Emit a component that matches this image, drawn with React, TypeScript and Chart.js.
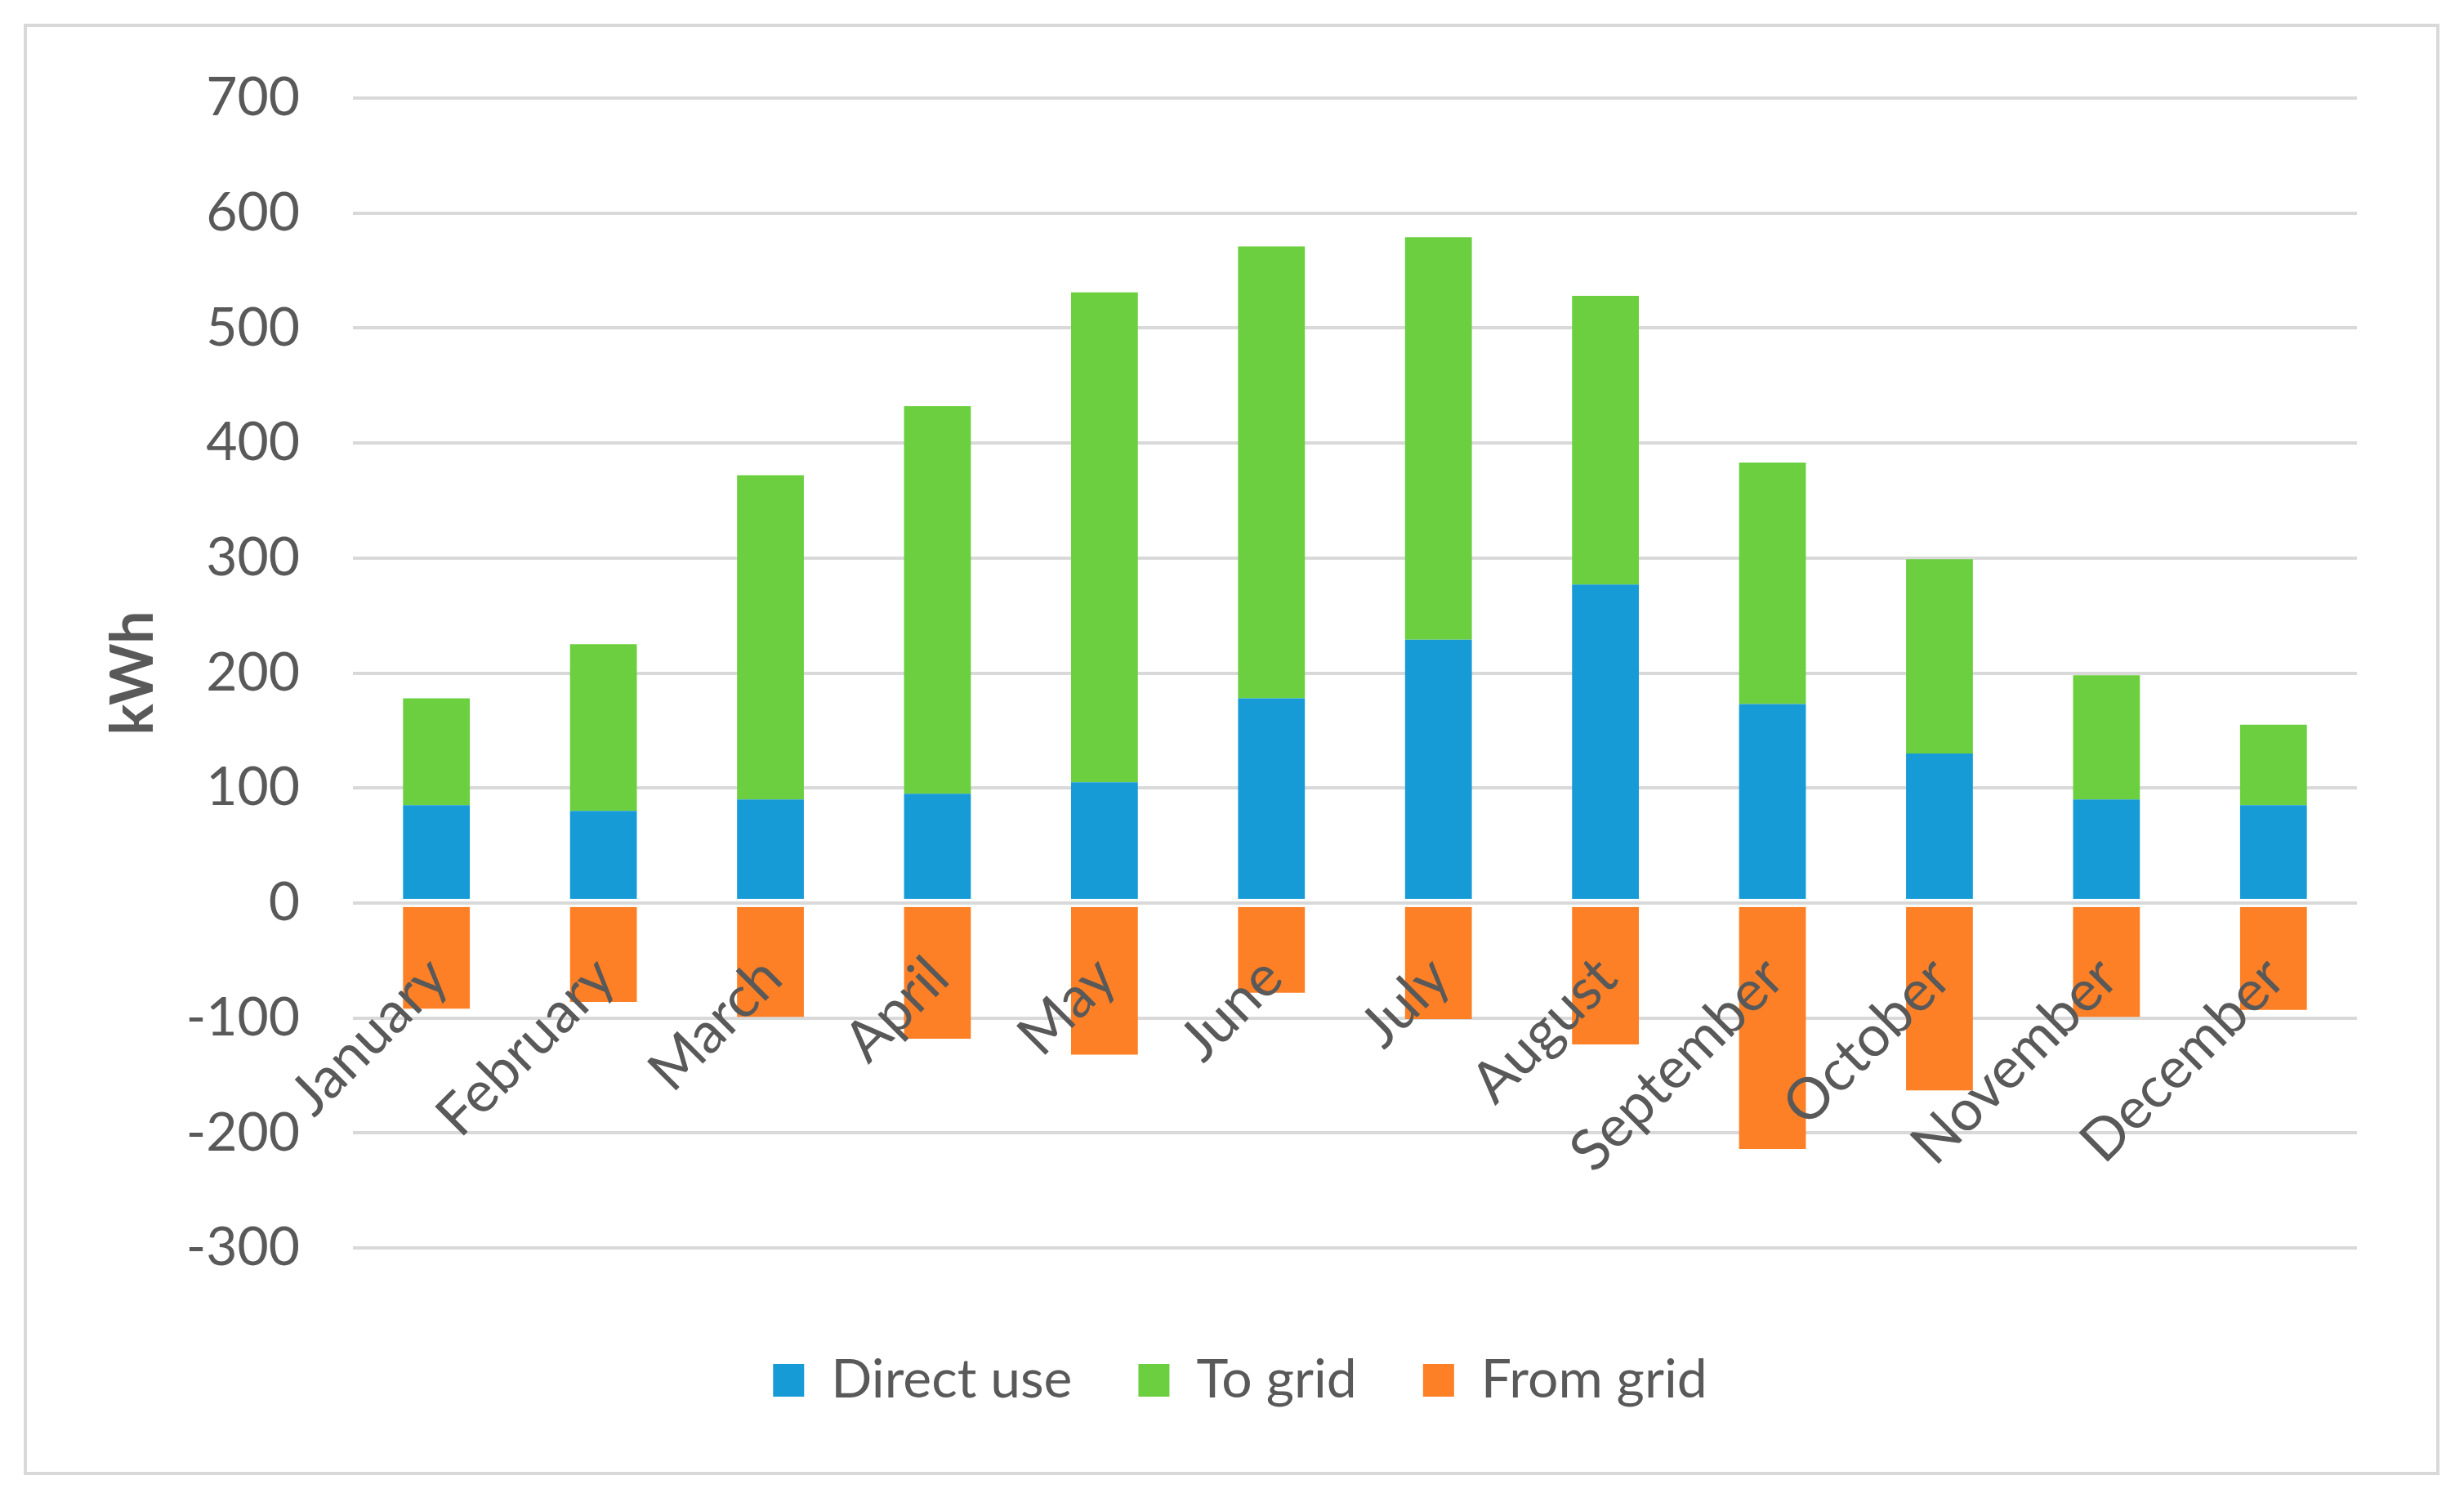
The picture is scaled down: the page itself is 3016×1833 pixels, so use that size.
import React, { useEffect, useRef } from "react";
import { Chart, registerables } from "chart.js";

Chart.register(...registerables);

const months = [
  "January", "February", "March", "April", "May", "June",
  "July", "August", "September", "October", "November", "December",
];
const directUse = [85, 80, 90, 95, 105, 178, 229, 277, 173, 130, 90, 85];
const toGrid = [93, 145, 282, 337, 426, 393, 350, 251, 210, 169, 108, 70];
const fromGrid = [-92, -86, -99, -118, -132, -78, -101, -123, -214, -163, -99, -93];
const yMin = -300;
const yMax = 700;
const yStep = 100;

const TEXT = "#595959";
const GRID = "#d9d9d9";
const FONT = "Lato";

const zeroLinePlugin = {
  id: "zeroLine",
  afterDatasetsDraw(chart: any) {
    const { ctx, chartArea } = chart;
    const y = chart.scales.y.getPixelForValue(0);
    ctx.save();
    ctx.fillStyle = "#ffffff";
    ctx.fillRect(chartArea.left, y - 5, chartArea.right - chartArea.left, 10);
    ctx.strokeStyle = GRID;
    ctx.lineWidth = 4;
    ctx.beginPath();
    ctx.moveTo(chartArea.left, y);
    ctx.lineTo(chartArea.right, y);
    ctx.stroke();
    ctx.restore();
  },
};

export default function App() {
  const ref = useRef<HTMLCanvasElement | null>(null);

  useEffect(() => {
    document.body.style.margin = "0";
    const canvas = ref.current;
    if (!canvas) return;
    const chart = new Chart(canvas, {
      type: "bar",
      data: {
        labels: months,
        datasets: [
          { label: "Direct use", data: directUse, backgroundColor: "#179bd7", stack: "s" },
          { label: "To grid", data: toGrid, backgroundColor: "#6bcf3f", stack: "s" },
          { label: "From grid", data: fromGrid, backgroundColor: "#fd8026", stack: "s" },
        ],
      },
      options: {
        responsive: false,
        animation: false,
        devicePixelRatio: 1,
        layout: { padding: { left: 151, right: 131, top: 120, bottom: 101 } },
        datasets: { bar: { categoryPercentage: 1, barPercentage: 0.4, borderWidth: 0 } },
        plugins: {
          tooltip: { enabled: false },
          legend: {
            position: "bottom",
            title: { display: true, text: "", font: { size: 10 }, padding: { top: 36, bottom: 0 } },
            labels: {
              color: TEXT,
              font: { family: FONT, size: 66 },
              boxWidth: 38,
              boxHeight: 40,
              padding: 81,
            },
          },
        },
        scales: {
          x: {
            stacked: true,
            position: { y: 0 } as any,
            grid: { display: false },
            border: { display: false },
            ticks: {
              z: 1,
              color: TEXT,
              font: { family: FONT, size: 70 },
              minRotation: 45,
              maxRotation: 45,
              autoSkip: false,
              padding: 42,
              labelOffset: 2,
            },
            afterFit: (scale: any) => {
              scale.height = 0;
            },
          },
          y: {
            stacked: true,
            min: yMin,
            max: yMax,
            grid: { color: GRID, lineWidth: 4, drawTicks: false },
            border: { display: false },
            ticks: {
              stepSize: yStep,
              color: TEXT,
              font: { family: FONT, size: 66 },
              padding: 65,
            },
            title: {
              display: true,
              text: "kWh",
              color: TEXT,
              font: { family: FONT, size: 72, weight: "bold" },
              padding: { top: -30, bottom: 0 },
            },
            afterFit: (scale: any) => {
              scale.width = 281;
            },
          },
        },
      },
      plugins: [zeroLinePlugin],
    });
    return () => chart.destroy();
  }, []);

  return (
    <div style={{ position: "relative", width: 3016, height: 1833, overflow: "hidden", background: "#fff" }}>
      <div
        style={{
          position: "absolute",
          left: 29,
          top: 29,
          width: 2957,
          height: 1776,
          border: "4px solid #d9d9d9",
          boxSizing: "border-box",
        }}
      />
      <canvas
        ref={ref}
        width={3016}
        height={1833}
        style={{ position: "absolute", left: 0, top: 0, width: 3016, height: 1833, display: "block" }}
      />
    </div>
  );
}
